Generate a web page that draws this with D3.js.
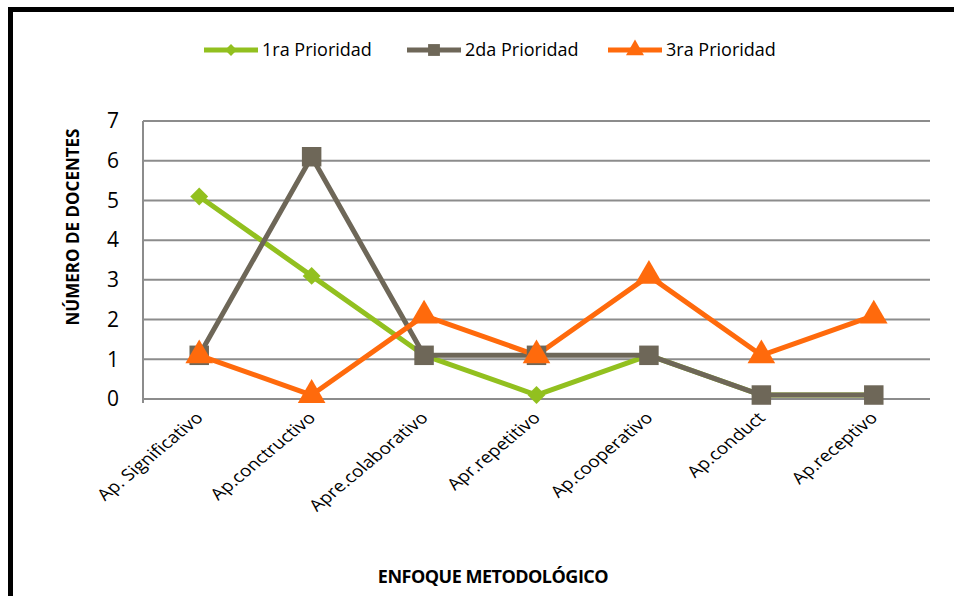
<!DOCTYPE html>
<html><head><meta charset="utf-8">
<script src="https://cdn.jsdelivr.net/npm/d3@7"></script>
<style>body{margin:0;background:#fff}svg{display:block}text{font-family:"Open Sans",sans-serif}</style>
</head><body>
<svg id="c" width="954" height="596"></svg>
<script>
const categories = ["Ap. Significativo","Ap.conctructivo","Apre.colaborativo","Apr.repetitivo","Ap.cooperativo","Ap.conduct","Ap.receptivo"];
const serie1 = [5.1,3.1,1.1,0.1,1.1,0.1,0.1];
const serie2 = [1.1,6.1,1.1,1.1,1.1,0.1,0.1];
const serie3 = [1.1,0.1,2.1,1.1,3.1,1.1,2.1];
const seriesNames = ["1ra Prioridad","2da Prioridad","3ra Prioridad"];
const yTicks = [0,1,2,3,4,5,6,7];

const colors = ["#92c01f","#6e6758","#ff6a0c"];
const svg = d3.select("#c");
svg.append("rect").attr("x",10.5).attr("y",9.5).attr("width",960).attr("height",600)
  .attr("fill","none").attr("stroke","#000").attr("stroke-width",5);

const L=143,R=930,T=121,B=399;
const x = d3.scaleBand().domain(categories).range([L,R]);
const y = d3.scaleLinear().domain([0,7]).range([B,T]);
const cx = d => x(d)+x.bandwidth()/2;

// gridlines
svg.append("g").selectAll("line").data(yTicks.filter(d=>d>0)).join("line")
  .attr("x1",L).attr("x2",R).attr("y1",d=>y(d)).attr("y2",d=>y(d))
  .attr("stroke","#8c8c8c").attr("stroke-width",2);
// axes
const yAxis = svg.append("g").attr("transform",`translate(${L},0)`)
  .call(d3.axisLeft(y).tickValues(yTicks).tickSize(0).tickPadding(24).tickFormat(d3.format("d")));
yAxis.select(".domain").remove();
yAxis.selectAll("text").attr("font-size",21).attr("fill","#000").attr("font-family","Open Sans");
svg.append("line").attr("x1",L).attr("x2",L).attr("y1",T).attr("y2",B+4).attr("stroke","#8c8c8c").attr("stroke-width",2);
svg.append("line").attr("x1",L).attr("x2",R).attr("y1",B).attr("y2",B).attr("stroke","#8c8c8c").attr("stroke-width",2);

// x labels
svg.append("g").selectAll("text").data(categories).join("text")
  .attr("transform",d=>`translate(${cx(d)+5},${B+20}) scale(1.2,1) rotate(-45)`)
  .attr("text-anchor","end").attr("font-size",16).attr("fill","#000").text(d=>d);

// lines
const line = d3.line().x((d,i)=>cx(categories[i])).y(d=>y(d));
const data = [serie1,serie2,serie3];
data.forEach((s,k)=>{
  svg.append("path").datum(s).attr("d",line).attr("fill","none")
    .attr("stroke",colors[k]).attr("stroke-width",5).attr("stroke-linejoin","round");
});
const symbols=[d3.symbolSquare,d3.symbolSquare,d3.symbolTriangle];
const sizes=[160,380,330];
const rot=[45,0,0];
data.forEach((s,k)=>{
  svg.append("g").selectAll("path").data(s).join("path")
    .attr("transform",(d,i)=>`translate(${cx(categories[i])},${y(d)}) rotate(${rot[k]})`)
    .attr("d",d3.symbol().type(symbols[k]).size(sizes[k])).attr("fill",colors[k]);
});

// legend
const legX=[204,407,608];
seriesNames.forEach((n,k)=>{
  const g=svg.append("g").attr("transform",`translate(${legX[k]},50)`);
  g.append("line").attr("x1",0).attr("x2",54).attr("y1",0).attr("y2",0).attr("stroke",colors[k]).attr("stroke-width",5);
  g.append("path").attr("transform",`translate(27,0) rotate(${rot[k]})`).attr("d",d3.symbol().type(symbols[k]).size(k==0?70:140)).attr("fill",colors[k]);
  g.append("text").attr("x",58).attr("y",6).attr("font-size",18).attr("fill","#000").text(n);
});

// titles
svg.append("text").attr("transform",`translate(79,227) rotate(-90)`).attr("text-anchor","middle")
  .attr("font-size",17).attr("font-weight","bold").attr("fill","#000").text("NÚMERO DE DOCENTES");
svg.append("text").attr("x",493).attr("y",583).attr("text-anchor","middle")
  .attr("font-size",18).attr("font-weight","bold").attr("fill","#000").attr("letter-spacing",-0.5).text("ENFOQUE METODOLÓGICO");
</script>
</body></html>
